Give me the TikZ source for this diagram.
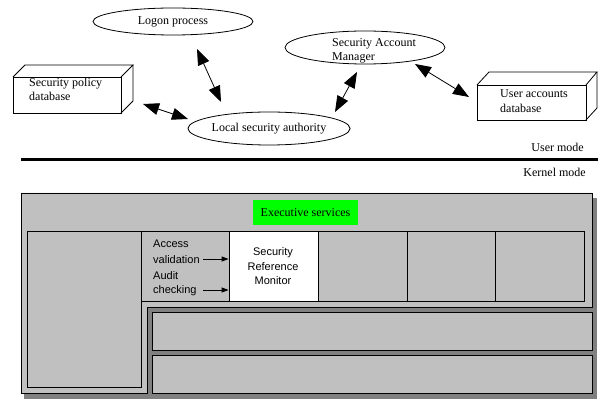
\documentclass[tikz,border=0pt]{standalone}
\usepackage{fontspec}
\setmainfont{Liberation Serif}
\newfontfamily\arialf{Liberation Sans}
\usetikzlibrary{shapes.geometric,arrows.meta}
\definecolor{lgray}{HTML}{C0C0C0}
\definecolor{dgray}{HTML}{808080}
\definecolor{egreen}{HTML}{00FF00}
\tikzset{
  ell/.style={draw,ellipse,inner sep=0pt,line width=0.8pt,font=\fontsize{12}{14}\selectfont},
  txt/.style={inner sep=0pt,font=\fontsize{12}{15}\selectfont,align=left},
  boxline/.style={line width=0.8pt},
  bigarrow/.style={line width=0.8pt,{Triangle[length=16pt,width=12pt]}-{Triangle[length=16pt,width=12pt]}},
  smallarrow/.style={line width=0.8pt,-{Triangle[length=7pt,width=5pt]}},
  kbox/.style={draw,fill=lgray,line width=0.8pt},
  stxt/.style={inner sep=0pt,font=\arialf\fontsize{11}{15}\selectfont},
}
\begin{document}
\begin{tikzpicture}[x=1pt,y=-1pt]
\useasboundingbox[fill=white] (0,0) rectangle (603,403);

% ---- user mode ----
\node[ell,minimum width=160pt,minimum height=27pt] (lp) at (173,21.5) {Logon process};
\node[ell,minimum width=160pt,minimum height=33pt] (sam) at (365,47.5) {};
\node[txt,anchor=west,font=\fontsize{12}{14}\selectfont] (samt) at (332,51) {Security Account\\Manager};
\node[ell,minimum width=160pt,minimum height=33pt] (lsa) at (269,128.5) {Local security authority};

% Security policy database box
\draw[boxline] (13,77) -- (25,65) -- (133,65) -- (121,77);
\draw[boxline] (133,65) -- (133,101) -- (121,113);
\node[draw,boxline,minimum width=108pt,minimum height=36pt,inner sep=0pt] (spd) at (67,95) {};
\node[txt,anchor=north west,font=\fontsize{12}{13.5}\selectfont] (spdt) at (29,78) {Security policy\\database};

% User accounts database box
\draw[boxline] (477,85) -- (489,72) -- (597,72) -- (586,85);
\draw[boxline] (597,72) -- (597,108) -- (586,120);
\node[draw,boxline,minimum width=109pt,minimum height=35pt,inner sep=0pt] (uad) at (531.5,102.5) {};
\node[txt,anchor=north west,font=\fontsize{12}{15}\selectfont] (uadt) at (500,89) {User accounts\\database};

% arrow end points
\coordinate (a1s) at (197,49);  \coordinate (a1e) at (221,102);
\coordinate (a2s) at (143,104); \coordinate (a2e) at (188,119);
\coordinate (a3s) at (335,112); \coordinate (a3e) at (357,72);
\coordinate (a4s) at (415,64);  \coordinate (a4e) at (469,97);
\draw[bigarrow] (a1s) -- (a1e);
\draw[bigarrow] (a2s) -- (a2e);
\draw[bigarrow] (a3s) -- (a3e);
\draw[bigarrow] (a4s) -- (a4e);

% separator
\coordinate (sepl) at (21,160);
\coordinate (sepr) at (598,160);
\draw[line width=3pt] (sepl) -- (sepr);
\node[txt,anchor=east] (um) at (584,147) {User mode};
\node[txt,anchor=east] (km) at (586,172) {Kernel mode};

% ---- kernel mode ----
\fill[dgray] (24,198) rectangle (597,399);
\draw[kbox] (21,193) -- (592,193) -- (592,307) -- (147,307) -- (147,393) -- (21,393) -- cycle;
\draw[kbox] (152,312) rectangle (592,350);
\draw[kbox] (152,355) rectangle (592,393);
\draw[kbox] (27,231) rectangle (141,387);
\draw[kbox] (141,231) rectangle (584,301);
\node[draw,fill=white,line width=0.8pt,minimum width=89pt,minimum height=70pt,inner sep=0pt] (srm) at (273.5,266) {};
\node[stxt,align=center,font=\arialf\fontsize{11}{14.5}\selectfont] (srmt) at (273,266.5) {Security\\Reference\\Monitor};
\draw[boxline] (318,231) -- (318,301);
\draw[boxline] (407,231) -- (407,301);
\draw[boxline] (495,231) -- (495,301);

\node[fill=egreen,minimum width=105pt,minimum height=25pt,inner sep=0pt,font=\fontsize{12}{14}\selectfont] (es) at (305.5,212.5) {Executive services};

\node[stxt,anchor=west] (acc) at (153,244) {Access};
\node[stxt,anchor=west] (val) at (153,259.5) {validation};
\node[stxt,anchor=west] (aud) at (153,275.5) {Audit};
\node[stxt,anchor=west] (chk) at (153,291) {checking};
\coordinate (v1) at (203,259);
\coordinate (v2) at (203,290);
\draw[smallarrow] (v1) -- (srm.west |- v1);
\draw[smallarrow] (v2) -- (srm.west |- v2);
\end{tikzpicture}
\end{document}
